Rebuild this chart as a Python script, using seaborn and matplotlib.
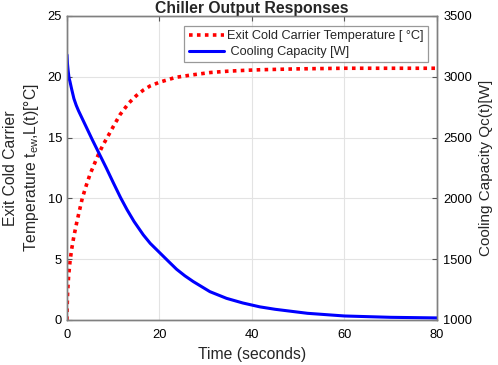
import matplotlib
matplotlib.use("Agg")
import matplotlib.pyplot as plt
import seaborn as sns
import pandas as pd

# Exit cold carrier temperature [°C]
time_temp = [0, 0.05, 0.15, 0.35, 0.65, 1.0, 1.5, 2.1, 2.7, 3.3, 4.2, 5.0, 6.0, 6.9, 7.8,
             8.7, 10.0, 11.5, 13.4, 15.0, 16.5, 18.0, 20.0, 23.5, 27.0, 31.0, 34.5, 38.0,
             42.0, 50.0, 60.0, 70.0, 80.0]
temp = [0, 1.2, 2.4, 3.6, 4.8, 5.8, 6.9, 8.0, 9.0, 10.0, 11.1, 12.0, 12.9, 13.7, 14.4,
        15.0, 15.9, 16.9, 17.85, 18.45, 18.9, 19.25, 19.55, 19.95, 20.15, 20.35, 20.45, 20.52,
        20.58, 20.65, 20.7, 20.7, 20.7]

# Cooling capacity [W]
time_cap = [0, 0.1, 0.25, 0.45, 0.65, 1.0, 1.5, 2.0, 2.5, 4.0, 5.5, 7.0, 8.5, 10.0, 11.6,
            13.0, 14.5, 16.5, 18.0, 20.0, 22.0, 23.7, 25.5, 27.3, 30.9, 34.5, 38.0, 41.7,
            45.0, 52.0, 60.0, 70.0, 80.0]
capacity = [3180, 3110, 3050, 2990, 2960, 2900, 2820, 2765, 2720, 2600, 2480, 2365, 2250,
            2130, 2005, 1906, 1810, 1700, 1630, 1555, 1480, 1417, 1363, 1316, 1233, 1178,
            1140, 1108, 1088, 1055, 1033, 1022, 1017]

left_ticks = [0, 5, 10, 15, 20, 25]
right_ticks = [1000, 1500, 2000, 2500, 3000, 3500]
x_ticks = [0, 20, 40, 60, 80]

sns.set_style("white")
plt.rcParams['font.family'] = ['Liberation Sans', 'DejaVu Sans']
plt.rcParams['mathtext.fontset'] = 'custom'
plt.rcParams['mathtext.rm'] = 'Liberation Sans'
plt.rcParams['mathtext.it'] = 'Liberation Sans'

df_t = pd.DataFrame({"t": time_temp, "v": temp})
df_q = pd.DataFrame({"t": time_cap, "v": capacity})

fig = plt.figure(figsize=(4.98, 3.65), dpi=100)
ax = fig.add_axes([0.1345, 0.1233, 0.7430, 0.8330])
ax2 = ax.twinx()

sns.lineplot(data=df_t, x="t", y="v", ax=ax, color="#ff0000", linestyle=(0, (1, 1.2)),
             linewidth=2.6, label="Exit Cold Carrier Temperature [ °C]", legend=False)
sns.lineplot(data=df_q, x="t", y="v", ax=ax2, color="#0000ff", linewidth=2.2,
             label=" Cooling Capacity [W]", legend=False)

ax.set_xlim(0, 80)
ax.set_ylim(0, 25)
ax2.set_ylim(1000, 3500)
ax.set_xticks(x_ticks)
ax.set_yticks(left_ticks)
ax2.set_yticks(right_ticks)

ax.grid(True, color="#e3e3e3", linewidth=0.8)
ax.set_axisbelow(True)
ax2.grid(False)

for a in (ax, ax2):
    for s in a.spines.values():
        s.set_visible(True)
        s.set_color("#808080")
        s.set_linewidth(1.0)
    a.tick_params(direction="in", length=3.5, width=0.8, color="#555555",
                  labelsize=9.3, labelcolor="black", pad=3.5)
ax.tick_params(axis="both", which="both", top=True, right=False)
ax.tick_params(axis="x", pad=6.5)
ax2.tick_params(axis="y", right=True, left=False, pad=4.5)

ax.set_xlabel("Time (seconds)", fontsize=11.3, labelpad=4)
ax.set_ylabel("Exit Cold Carrier\nTemperature t$_{ew}$,L(t)[°C]", fontsize=11.3, labelpad=5,
              linespacing=1.25)
ax2.set_ylabel("Cooling Capacity Qc(t)[W]", fontsize=11, labelpad=5)
ax.set_title("Chiller Output Responses", fontsize=11.3, fontweight="bold", pad=2)

h1, l1 = ax.get_legend_handles_labels()
h2, l2 = ax2.get_legend_handles_labels()
leg = ax2.legend(h1 + h2, l1 + l2, loc="upper right", bbox_to_anchor=(0.976, 0.968),
                 borderaxespad=0, fontsize=9.2, frameon=True, fancybox=False,
                 handlelength=2.74, handletextpad=0.25, borderpad=0.35, labelspacing=0.3)
leg.get_frame().set_edgecolor("#808080")
leg.get_frame().set_linewidth(0.9)

fig.savefig("out.png", dpi=100)
